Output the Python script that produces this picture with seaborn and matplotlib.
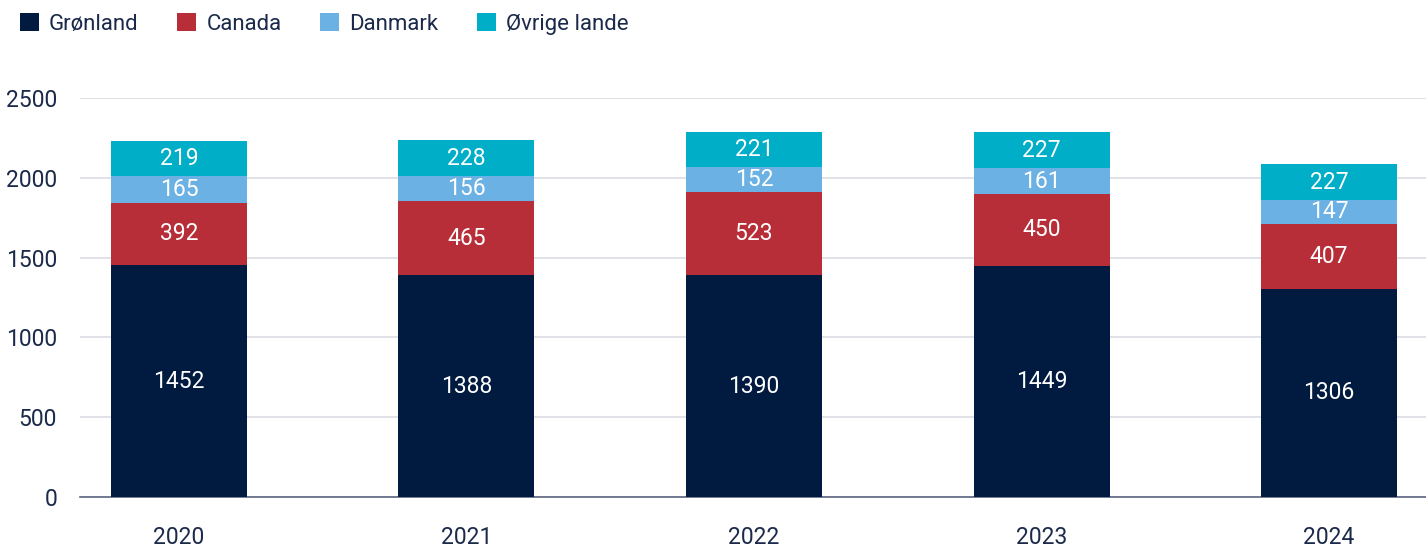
import matplotlib
matplotlib.use("Agg")
import matplotlib.pyplot as plt
from matplotlib.patches import Patch
import numpy as np
import pandas as pd
import seaborn as sns

years = ["2020", "2021", "2022", "2023", "2024"]
groenland = [1452, 1388, 1390, 1449, 1306]
canada = [392, 465, 523, 450, 407]
danmark = [165, 156, 152, 161, 147]
oevrige = [219, 228, 221, 227, 227]

series_names = ["Grønland", "Canada", "Danmark", "Øvrige lande"]
series_values = [groenland, canada, danmark, oevrige]
colors = ["#011a40", "#b82e38", "#6bb1e4", "#00aec7"]
y_ticks = [0, 500, 1000, 1500, 2000, 2500]

sns.set_theme(style="white")
plt.rcParams["font.family"] = ["Roboto", "DejaVu Sans"]
text_color = "#1b2a4a"
fs = 16.5

fig = plt.figure(figsize=(14.26, 5.48), dpi=100)
ax = fig.add_axes([80 / 1426, 51 / 548, 1346 / 1426, 399 / 548])

# stacked bars, one seaborn layer per country group
bottom = np.zeros(len(years))
for name, vals, col in zip(series_names, series_values, colors):
    df = pd.DataFrame({"year": years, "value": vals})
    sns.barplot(data=df, x="year", y="value", color=col, width=0.473,
                bottom=bottom, ax=ax, saturation=1, linewidth=0, zorder=3)
    for i, v in enumerate(vals):
        ax.text(i, bottom[i] + v / 2, f"{v}", ha="center", va="center",
                color="white", fontsize=fs, zorder=4)
    bottom = bottom + np.array(vals)

ax.set_xlim(-0.344, 4.337)
ax.set_ylim(0, 2500)
ax.set_yticks(y_ticks)
ax.set_yticklabels([str(t) for t in y_ticks])
ax.set_xlabel("")
ax.set_ylabel("")
ax.yaxis.grid(True, color="#dcdde3", linewidth=1.2, zorder=0)
ax.xaxis.grid(False)
for s in ["top", "right", "left"]:
    ax.spines[s].set_visible(False)
ax.spines["bottom"].set_color("#5b6680")
ax.spines["bottom"].set_linewidth(1.2)
ax.tick_params(axis="y", length=0, pad=16.5, labelsize=fs, labelcolor=text_color)
ax.tick_params(axis="x", length=0, pad=21, labelsize=fs, labelcolor=text_color)

handles = [Patch(facecolor=c, edgecolor="none") for c in colors]
fig.legend(handles, series_names, loc="upper left", bbox_to_anchor=(0.0, 1.012),
           ncol=4, frameon=False, fontsize=16, handlelength=0.85, handleheight=0.85,
           handletextpad=0.45, columnspacing=1.75, labelcolor=text_color)

fig.savefig("out.png", dpi=100)
